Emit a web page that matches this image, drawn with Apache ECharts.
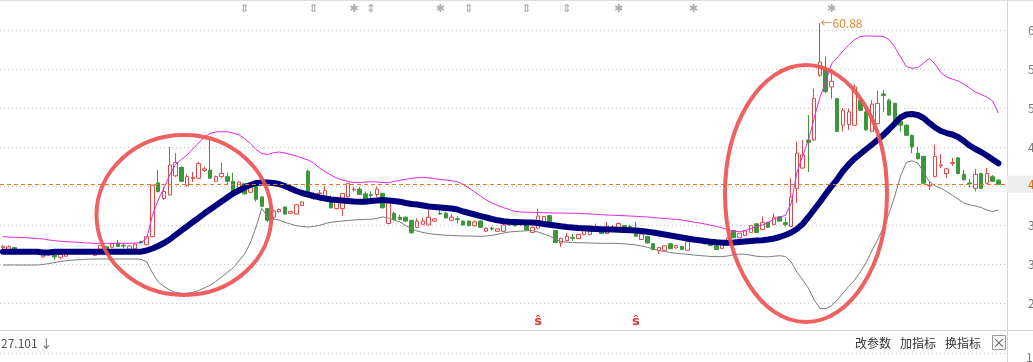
<!DOCTYPE html>
<html><head><meta charset="utf-8">
<script src="https://cdn.jsdelivr.net/npm/echarts@6.0.0/dist/echarts.min.js"></script>
<style>html,body{margin:0;padding:0;background:#fff;}#chart{width:1033px;height:362px;}</style>
</head><body><div id="chart"></div>
<script>
// ---- data ----
const opens = [32.1,31.8,32.1,31.8,31.5,31.6,31.7,30.9,31.2,31.3,
30.85,31.0,31.6,31.4,31.5,31.7,31.1,31.9,32.2,32.15,
32.7,32.4,31.9,31.95,32.9,32.45,33.5,40.4,38.4,38.85,
41.3,42.4,40.1,40.95,41.0,42.0,42.05,40.6,41.2,41.2,
40.6,39.7,40.3,39.2,40.0,38.6,37.1,36.0,36.7,37.3,
36.5,36.4,37.5,41.9,38.4,39.0,38.6,38.2,37.1,37.1,
38.6,39.5,39.6,39.0,38.9,38.9,39.06,35.2,36.5,36.0,
36.0,35.6,34.7,35.1,35.0,35.5,36.5,36.5,35.6,35.8,
35.5,35.5,34.9,35.5,34.2,34.6,34.2,34.2,35.0,35.3,
35.1,34.9,34.05,34.6,35.45,36.2,34.3,32.7,33.0,33.4,
33.25,33.75,33.75,34.8,34.3,33.9,34.6,34.65,34.95,34.8,
34.35,33.15,33.55,32.6,31.75,31.75,32.6,32.05,32.25,31.75,
32.9,33.15,32.95,32.85,32.35,32.0,32.9,34.3,33.35,33.65,
34.05,35.15,34.4,35.35,35.05,36.05,35.3,34.8,39.7,42.3,
45.9,45.9,54.2,54.9,52.7,51.2,47.8,47.9,47.8,51.0,
49.5,47.0,48.0,51.8,51.0,50.6,48.3,47.8,46.5,44.2,
43.8,40.0,41.2,42.6,41.6,42.9,43.6,41.5,40.4,39.7,
41.6,40.35,41.2,40.75];
const closes = [32.3,32.2,31.8,31.6,31.7,31.7,31.5,31.3,31.4,30.9,
31.25,31.4,31.4,31.6,31.7,31.5,31.7,32.4,31.9,32.6,
32.25,32.3,32.3,32.55,32.7,33.5,40.1,39.3,39.3,42.7,
43.0,40.6,41.2,41.1,42.9,42.2,41.0,41.2,41.6,40.6,
39.3,40.5,39.0,39.85,38.3,37.4,35.6,36.8,37.0,36.4,
36.75,37.6,37.95,39.3,39.0,39.1,39.4,37.2,38.0,39.05,
40.35,39.6,38.9,38.2,38.8,39.6,37.2,37.9,35.7,35.7,
35.5,34.0,35.5,35.5,36.0,35.8,36.4,35.9,36.0,35.7,
35.0,34.9,35.4,34.7,34.6,34.5,34.5,35.0,35.3,34.9,
35.3,34.35,34.7,36.15,36.1,35.45,32.75,33.3,33.55,33.3,
33.8,34.4,34.9,34.7,33.9,34.85,34.7,35.2,34.15,34.7,
33.55,33.85,32.7,31.85,32.1,32.35,31.95,32.35,31.85,32.85,
33.15,33.05,32.6,32.35,31.85,32.6,33.35,33.35,33.95,34.25,
34.95,34.05,35.35,34.7,36.0,35.5,35.05,38.6,44.2,44.0,
45.6,51.2,55.9,52.1,53.4,47.0,49.7,49.5,52.7,49.7,
47.2,50.5,50.6,51.6,49.1,47.8,47.8,46.5,45.0,43.5,
40.35,40.1,43.8,42.7,42.2,43.0,41.6,40.8,40.3,41.5,
39.7,41.6,40.6,40.22];
const lows = [31.9,31.6,31.7,31.5,31.4,31.5,31.4,30.8,31.1,30.6,
30.6,30.9,31.3,31.3,31.4,31.4,31.0,31.8,31.8,32.1,
32.2,32.0,31.85,31.9,32.6,32.4,33.45,39.2,38.2,38.8,
41.2,40.5,39.9,40.5,40.9,41.8,40.9,40.5,41.0,40.1,
39.2,39.6,38.9,39.1,38.0,37.3,35.4,35.7,36.6,36.3,
36.45,36.35,37.45,39.2,38.2,38.3,38.5,37.1,37.0,36.15,
38.5,39.3,38.85,38.15,38.4,38.6,37.1,35.1,35.6,35.6,
35.4,33.9,34.6,35.0,34.95,35.4,36.3,35.85,35.5,35.2,
34.95,34.85,34.8,34.65,34.1,34.3,34.1,34.1,34.9,34.8,
34.9,34.3,34.0,34.5,35.4,35.4,32.7,32.2,32.9,32.95,
33.2,33.7,33.7,34.3,33.85,33.85,34.3,34.6,34.1,34.5,
33.5,33.1,32.65,31.8,31.3,31.7,31.9,32.0,31.8,31.7,
32.85,32.9,32.55,32.3,31.8,31.95,32.85,33.3,33.3,33.6,
34.0,34.0,34.36,34.6,35.0,35.4,34.8,34.75,37.8,42.2,
41.8,45.8,54.0,51.9,51.2,46.9,47.0,47.2,47.7,49.6,
47.1,46.9,47.9,49.5,49.0,47.7,47.0,46.4,44.2,43.4,
40.3,39.5,41.1,42.3,41.0,42.6,41.5,40.7,39.8,39.3,
39.6,40.3,40.5,40.1];
const highs = [32.4,32.4,32.2,31.9,31.8,31.8,31.8,31.4,31.5,31.45,
31.4,31.45,31.7,31.7,31.8,31.8,31.8,32.4,32.3,32.65,
33.1,32.6,32.4,32.6,32.95,33.5,40.15,42.05,39.9,45.0,
44.2,42.5,41.5,41.8,43.1,42.5,45.9,41.35,43.0,41.7,
41.7,40.6,40.4,39.9,40.2,38.7,37.2,36.9,37.1,37.4,
36.8,37.65,38.0,42.1,39.2,39.5,40.0,38.8,38.1,39.1,
40.4,39.9,39.9,39.3,39.3,39.9,39.1,38.2,36.7,36.3,
36.1,35.65,35.85,35.9,37.0,35.9,36.9,36.7,36.4,36.1,
35.6,35.6,35.6,35.6,34.7,34.8,34.6,35.2,35.5,35.4,
35.55,34.95,34.8,37.1,36.15,36.3,34.35,33.35,34.0,33.9,
33.85,34.45,35.0,35.2,34.36,35.4,35.0,35.3,35.0,35.0,
35.4,33.9,33.6,32.65,32.2,32.4,32.65,32.4,32.3,33.1,
33.2,33.3,33.0,32.9,32.4,32.65,33.4,34.36,34.0,34.3,
35.0,35.2,36.1,35.4,36.5,36.1,36.0,41.0,45.7,45.9,
49.1,52.5,60.88,56.6,54.9,51.3,50.0,49.9,53.0,51.1,
49.9,51.0,52.2,52.3,51.2,50.7,48.4,47.9,46.6,45.0,
43.9,40.6,45.3,44.1,42.3,43.6,43.7,42.05,40.9,42.2,
41.7,42.3,41.4,40.9];
const bollUpper = [33.5,33.46,33.42,33.4,33.36,33.31,33.27,33.21,33.08,32.99,
32.91,32.86,32.82,32.78,32.73,32.69,32.65,32.65,32.65,32.65,
32.65,32.65,32.65,32.69,32.76,33.29,36.28,38.21,39.74,41.41,
42.76,43.4,43.97,44.74,45.51,46.22,46.76,46.92,46.96,46.96,
46.79,46.58,46.09,45.45,44.68,44.17,44.04,44.27,44.36,44.23,
44.04,43.85,43.59,43.33,42.95,42.31,41.86,41.41,41.03,40.77,
40.58,40.45,40.45,40.51,40.55,40.51,40.45,40.42,40.58,40.73,
40.86,40.96,41.06,41.12,41.05,40.94,40.83,40.77,40.68,40.55,
40.19,39.74,39.23,38.72,38.21,37.82,37.5,37.22,36.99,36.73,
36.67,36.64,36.63,36.6,36.58,36.56,36.54,36.54,36.51,36.5,
36.5,36.45,36.41,36.37,36.32,36.28,36.26,36.22,36.19,36.15,
36.12,36.06,36.03,35.96,35.9,35.83,35.77,35.73,35.64,35.51,
35.38,35.26,35.13,34.97,34.81,34.62,34.4,34.21,34.14,34.29,
34.58,34.81,35.0,35.32,35.77,36.03,36.22,37.82,41.79,43.85,
45.9,48.72,51.41,53.33,55.64,56.47,57.31,58.08,58.78,59.17,
59.23,59.23,59.19,59.19,58.78,57.82,56.54,55.32,55.09,55.19,
55.77,56.35,55.64,54.55,53.97,53.72,53.46,53.08,52.56,52.05,
51.73,51.41,50.9,49.36];
const bollMid = [31.58,31.58,31.58,31.58,31.58,31.58,31.58,31.47,31.47,31.58,
31.58,31.58,31.58,31.58,31.58,31.58,31.58,31.58,31.58,31.58,
31.58,31.58,31.58,31.58,31.58,31.73,31.99,32.31,32.69,33.14,
33.72,34.29,34.81,35.38,35.9,36.47,36.99,37.5,38.01,38.53,
39.04,39.42,39.81,40.13,40.38,40.45,40.45,40.38,40.26,40.0,
39.68,39.36,39.1,38.91,38.72,38.53,38.4,38.27,38.21,38.14,
38.08,38.01,37.99,37.99,38.08,38.14,38.21,38.14,38.08,37.99,
37.82,37.69,37.63,37.5,37.37,37.31,37.24,37.18,37.12,36.99,
36.73,36.54,36.35,36.15,35.96,35.77,35.6,35.49,35.42,35.38,
35.35,35.32,35.32,35.26,35.13,35.04,34.94,34.83,34.74,34.68,
34.62,34.58,34.53,34.49,34.45,34.42,34.42,34.4,34.36,34.33,
34.29,34.23,34.14,34.04,33.91,33.78,33.65,33.53,33.4,33.27,
33.14,33.04,32.95,32.86,32.79,32.74,32.73,32.76,32.82,32.88,
32.95,33.01,33.05,33.14,33.27,33.46,33.72,34.04,34.49,35.13,
36.03,36.99,37.95,38.97,39.96,40.86,41.92,42.76,43.5,44.1,
44.71,45.29,45.9,46.54,47.24,48.01,48.78,49.17,49.23,49.1,
48.72,48.08,47.5,47.05,46.79,46.6,46.28,45.77,45.19,44.74,
44.36,43.91,43.4,42.91];
const bollLower = [29.87,29.87,29.87,29.87,29.87,29.87,29.87,29.94,30.06,30.19,
30.32,30.42,30.49,30.54,30.58,30.62,30.64,30.64,30.64,30.64,
30.64,30.64,30.64,30.64,30.62,30.26,28.85,27.69,27.12,26.67,
26.35,26.24,26.24,26.37,26.6,26.92,27.27,27.76,28.33,28.91,
29.49,30.38,31.28,32.69,34.74,37.12,36.06,35.77,35.64,35.35,
35.13,34.91,34.81,34.74,34.81,34.96,35.17,35.35,35.42,35.51,
35.58,35.64,35.68,35.71,35.73,35.86,36.03,35.9,35.64,35.38,
34.94,34.49,34.23,34.04,33.91,33.81,33.74,33.69,33.65,33.62,
33.59,33.59,33.56,33.55,33.59,33.68,33.81,33.97,34.1,34.17,
34.21,34.26,34.29,34.1,33.85,33.59,33.21,32.86,32.79,32.76,
32.73,32.72,32.69,32.67,32.65,32.65,32.65,32.63,32.59,32.53,
32.44,32.31,32.14,31.92,31.73,31.6,31.47,31.37,31.31,31.24,
31.15,31.09,31.03,30.96,30.94,30.94,31.03,31.19,31.28,31.24,
31.12,30.99,30.94,30.92,31.0,31.06,30.96,30.26,28.97,27.95,
26.88,25.38,24.32,24.29,24.62,25.38,26.28,27.12,27.95,28.97,
30.13,31.67,33.08,34.62,36.47,38.72,41.28,43.01,43.24,42.95,
41.79,40.58,40.0,39.74,39.29,38.81,38.33,37.82,37.59,37.44,
37.24,36.92,36.71,36.92];
const lastPrice = 40.22;
const peakIndex = 142;
const peakValue = 60.88;
const topMarkIdx = [42, 54, 61, 64, 76, 81, 91, 98, 107, 120, 144];
const topMarkGlyph = ['⇕','⇕','✱','⇕','✱','⇕','⇕','⇕','✱','✱','✱'];
const bottomMarkIdx = [93, 110];
const yMin = 25, yMax = 60, yStep = 5;
const categories = Array.from({length: 175}, (_, i) => 'D' + (i + 1));
const bottomTexts = ['改参数', '加指标', '换指标'];
const lowerPanelValue = '27.101';

// ---- chart ----
const FONT = "'Noto Sans CJK SC', 'DejaVu Sans', sans-serif";
const candleData = opens.map((o, i) => [o, closes[i], lows[i], highs[i]]);
const chart = echarts.init(document.getElementById('chart'));
const txt = (x, y, t, color, size, align) => ({
  type: 'text', x: x, y: y, silent: true, z: 50,
  style: {text: t, fill: color, font: size + 'px ' + FONT,
    align: align || 'left', textAlign: align || 'left',
    verticalAlign: 'middle', textVerticalAlign: 'middle'}
});
const option = {
  animation: false,
  backgroundColor: '#ffffff',
  grid: {left: 0, top: 30, width: 1007, height: 273, containLabel: false, outerBoundsMode: 'none'},
  xAxis: {type: 'category', data: categories, boundaryGap: true, show: false},
  yAxis: {
    type: 'value', position: 'right', min: yMin, max: yMax, interval: yStep,
    axisLine: {show: false}, axisTick: {show: false},
    axisLabel: {margin: 21, color: '#777', fontSize: 12, fontFamily: FONT, formatter: v => v.toFixed(2)},
    splitLine: {show: true, lineStyle: {color: '#c4c4c4', type: [1, 3], width: 1}}
  },
  series: [
    {
      type: 'candlestick', data: candleData, barWidth: 4, clip: false, z: 2, silent: true,
      itemStyle: {color: '#ffffff', color0: '#3a983a', borderColor: '#e04848', borderColor0: '#3a983a', borderWidth: 1},
      markLine: {
        symbol: ['none', 'none'], silent: true, animation: false,
        lineStyle: {color: '#e8761e', type: [4, 3], width: 1},
        label: {show: true, position: 'end', distance: 0, formatter: lastPrice.toFixed(2),
          color: '#e06a00', backgroundColor: '#ececec', padding: [3, 4, 2, 21], fontSize: 12, fontFamily: FONT},
        data: [{yAxis: lastPrice}]
      }
    },
    {type: 'line', data: bollUpper, showSymbol: false, symbol: 'none', clip: false, z: 3, silent: true,
      lineStyle: {color: '#e028e0', width: 1}},
    {type: 'line', data: bollLower, showSymbol: false, symbol: 'none', clip: false, z: 3, silent: true,
      lineStyle: {color: '#7c7c7c', width: 1}},
    {type: 'line', data: bollMid, showSymbol: false, symbol: 'none', clip: false, z: 4, silent: true,
      lineStyle: {color: '#00007e', width: 6, cap: 'round', join: 'round'}},
    {type: 'scatter', clip: false, symbolSize: 1, silent: true, z: 5,
      itemStyle: {color: 'rgba(0,0,0,0)'},
      data: topMarkIdx.map((ix, k) => ({value: [ix, 62.7], glyph: topMarkGlyph[k]})),
      label: {show: true, position: 'inside', formatter: p => p.data.glyph, color: '#999999', fontSize: 11, fontWeight: 'bold', fontFamily: "'DejaVu Sans', sans-serif"}},
    {type: 'scatter', clip: false, symbolSize: 1, silent: true, z: 5,
      itemStyle: {color: 'rgba(0,0,0,0)'},
      data: bottomMarkIdx.map(ix => [ix, 22.56]),
      label: {show: true, position: 'inside', formatter: 'ŝ', color: '#d40000', fontSize: 13, fontWeight: 'bold', fontFamily: "'DejaVu Sans', sans-serif"}},
    {type: 'scatter', clip: false, symbolSize: 1, silent: true, z: 6,
      itemStyle: {color: 'rgba(0,0,0,0)'},
      data: [[peakIndex, peakValue]],
      label: {show: true, position: 'right', distance: 0, formatter: '←' + peakValue.toFixed(2),
        color: '#e06a00', fontSize: 12, fontFamily: FONT}}
  ],
  graphic: [
    {type: 'line', silent: true, shape: {x1: 0, y1: 0.5, x2: 1033, y2: 0.5}, style: {stroke: '#dcdcdc', lineWidth: 1}},
    {type: 'line', silent: true, shape: {x1: 1007.5, y1: 0, x2: 1007.5, y2: 362}, style: {stroke: '#d6d6d6', lineWidth: 1}},
    {type: 'line', silent: true, shape: {x1: 0, y1: 330.5, x2: 1033, y2: 330.5}, style: {stroke: '#d6d6d6', lineWidth: 1}},
    {type: 'line', silent: true, shape: {x1: 0, y1: 353.5, x2: 1007, y2: 353.5}, style: {stroke: '#c4c4c4', lineWidth: 1, lineDash: [1, 3]}},
    {type: 'ellipse', silent: true, z: 100, shape: {cx: 184, cy: 215, rx: 87.5, ry: 80},
      style: {fill: 'none', stroke: 'rgba(238,82,82,0.92)', lineWidth: 4}},
    {type: 'ellipse', silent: true, z: 100, shape: {cx: 806, cy: 193.5, rx: 81, ry: 128.5},
      style: {fill: 'none', stroke: 'rgba(238,82,82,0.92)', lineWidth: 4}},
    txt(1, 343, lowerPanelValue + ' ↓', '#555555', 12),
    txt(855, 343, bottomTexts[0], '#333333', 12),
    txt(900, 343, bottomTexts[1], '#333333', 12),
    txt(945, 343, bottomTexts[2], '#333333', 12),
    {type: 'rect', silent: true, z: 50, shape: {x: 992.5, y: 335.5, width: 13, height: 14},
      style: {fill: '#f7f7f7', stroke: '#9a9a9a', lineWidth: 1}},
    txt(999, 342.5, '×', '#555555', 13, 'center'),
    txt(1026, 357, '10', '#777777', 12)
  ]
};
chart.setOption(option);
</script>
</body></html>
